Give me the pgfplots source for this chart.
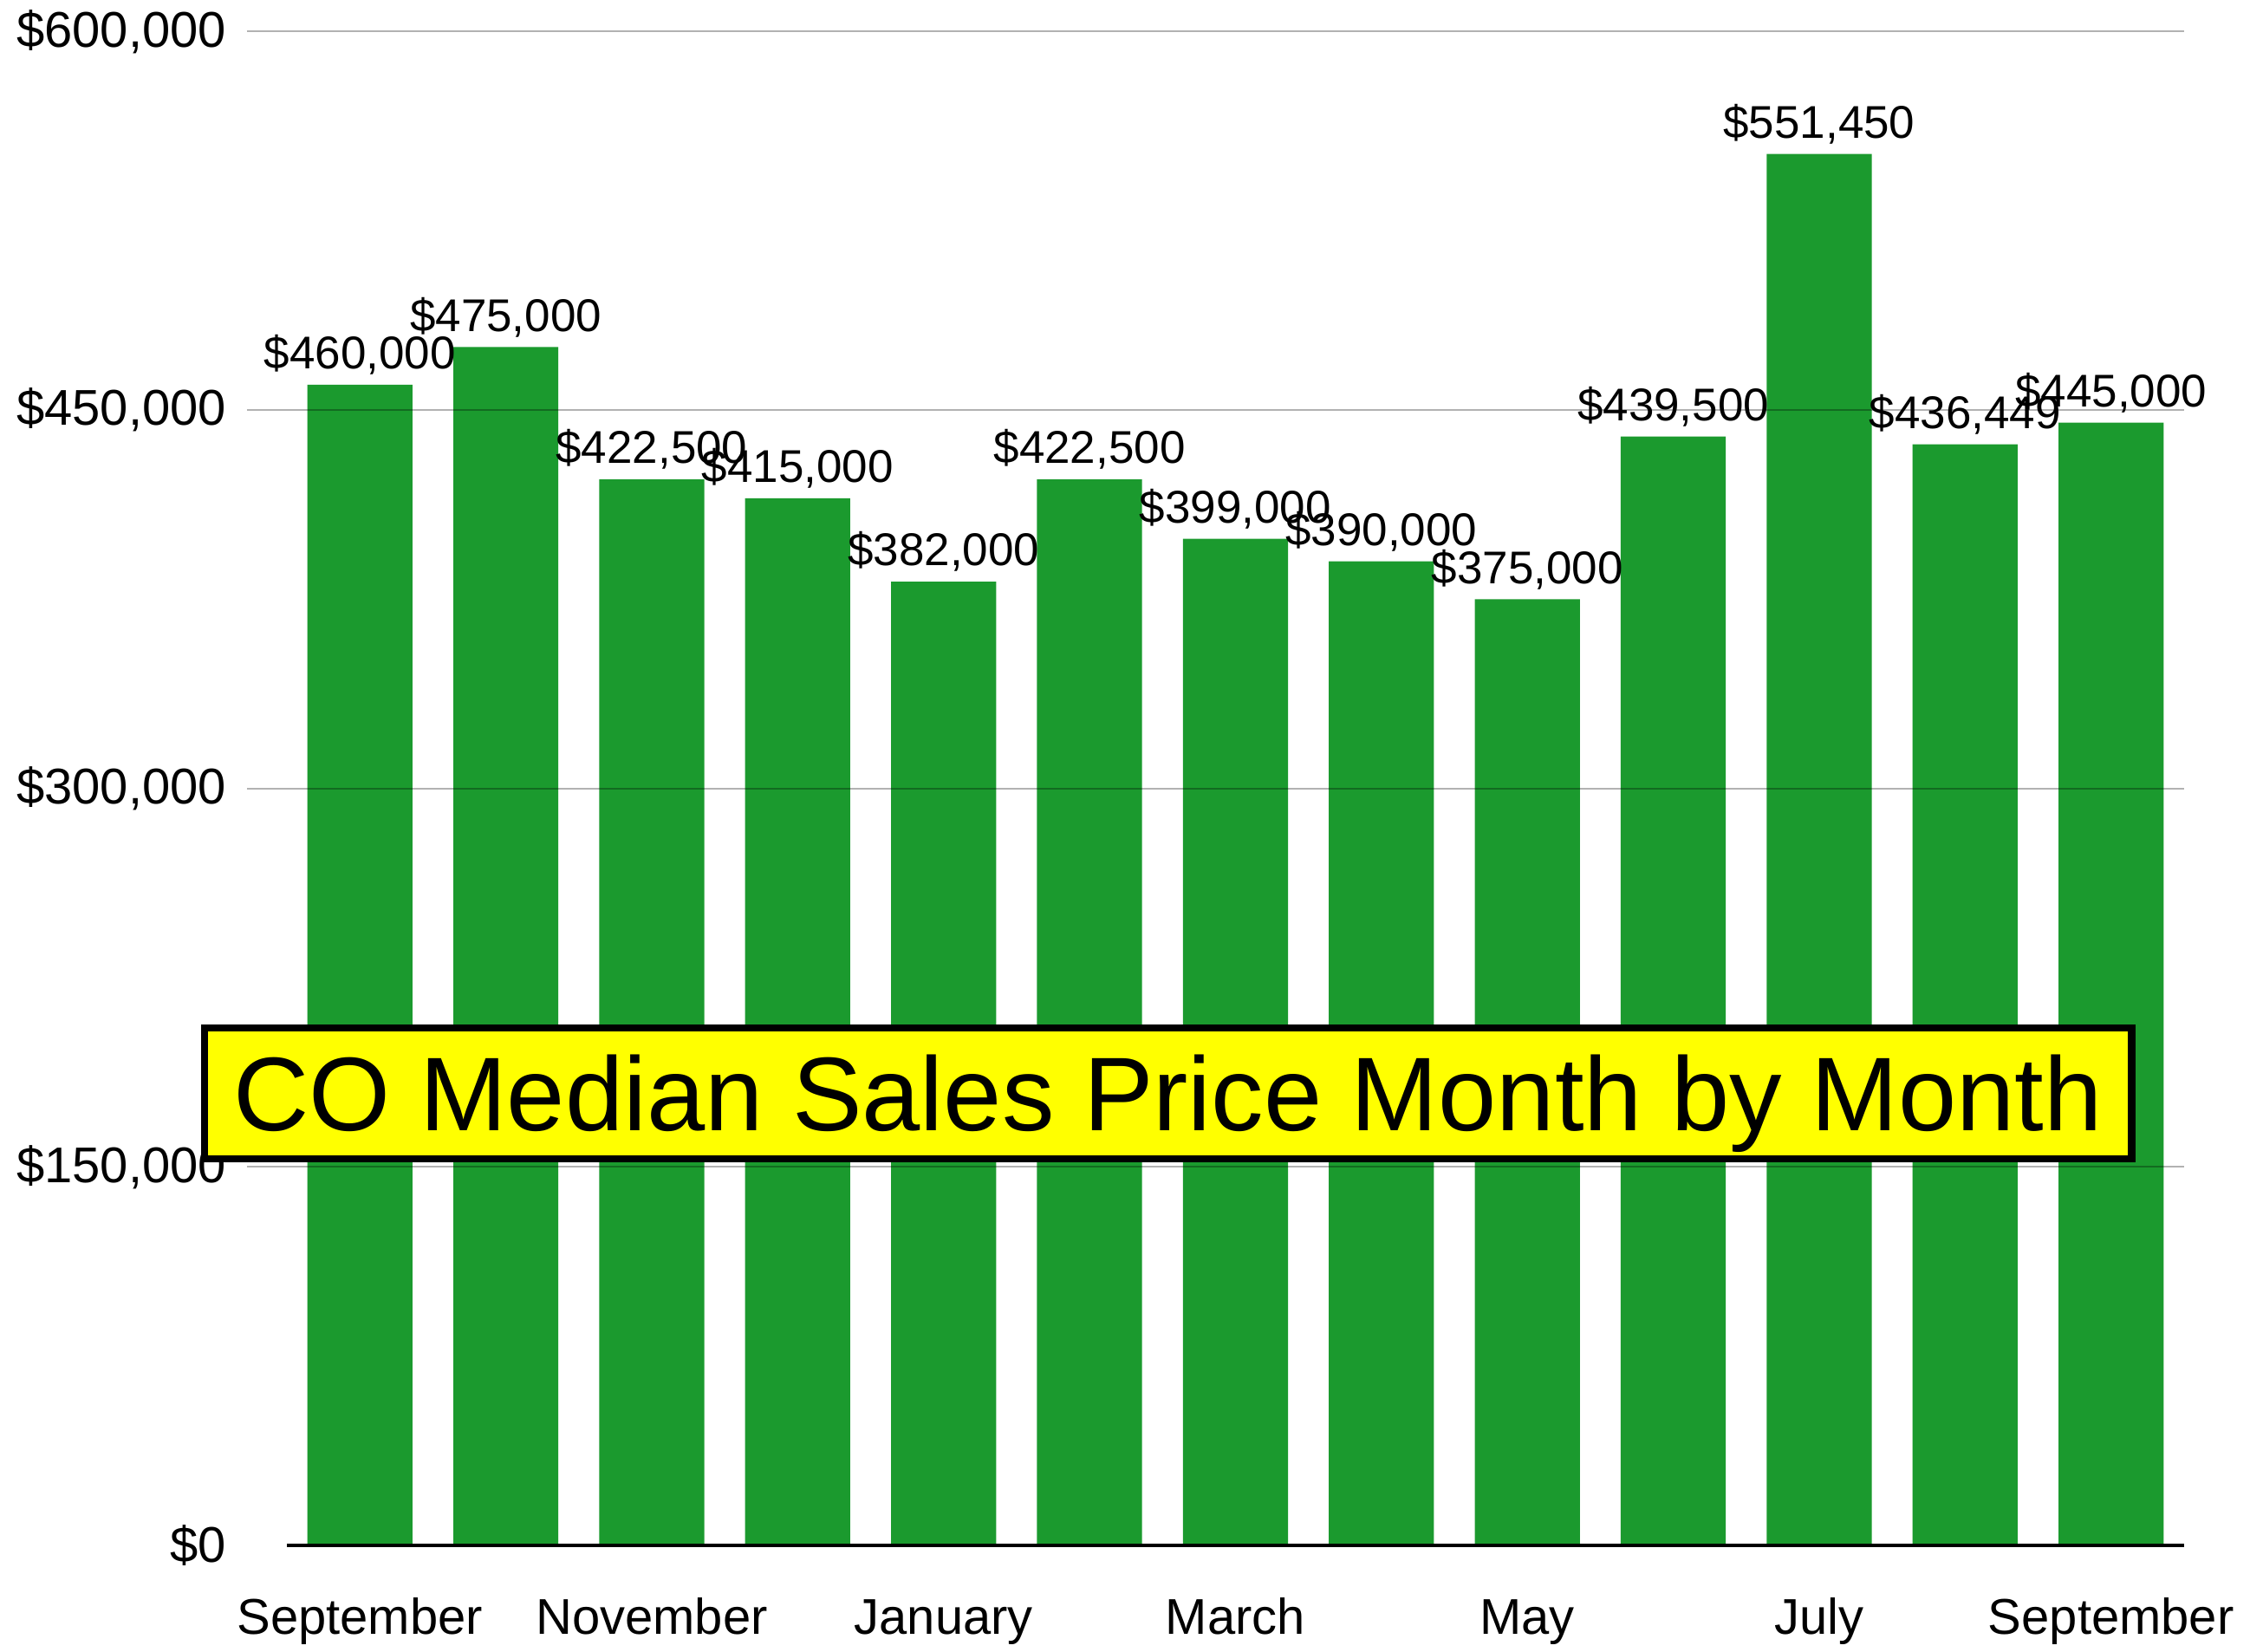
\documentclass[border=0pt]{standalone}
\usepackage{fontspec}
\setmainfont{Liberation Sans}
\usepackage{pgfplots}
\pgfplotsset{compat=1.18}
\definecolor{bargreen}{RGB}{27,154,46}
\definecolor{titleyellow}{RGB}{255,255,0}
\begin{document}
\begin{tikzpicture}
\begin{axis}[
  scale only axis, width=675pt, height=527.5pt,
  xmin=-0.775, xmax=12.5, ymin=0, ymax=600000,
  axis line style={draw=none},
  major tick length=0pt,
  xtick={0,2,4,6,8,10,12},
  xticklabels={September,November,January,March,May,July,September},
  xticklabel style={anchor=base, yshift=-30.8pt, inner sep=0pt, font=\fontsize{17.5}{20}\selectfont},
  ytick={150000,300000,450000,600000},
  yticklabels={{\$150,000},{\$300,000},{\$450,000},{\$600,000}},
  extra y ticks={0}, extra y tick labels={\$0},
  extra y tick style={grid=none},
  yticklabel style={anchor=east, xshift=-7pt, inner sep=0pt, font=\fontsize{17.5}{20}\selectfont},
  scaled y ticks=false,
  ymajorgrids, grid style={draw=black, opacity=0.3, line width=0.6pt},
  axis on top,
  clip=false,
  ybar, bar width=0.72,
  point meta=explicit symbolic,
  nodes near coords={\$\pgfplotspointmeta},
  every node near coord/.append style={anchor=base, yshift=5.5pt, inner sep=0pt, font=\fontsize{16}{18}\selectfont, text=black},
]
\addplot[fill=bargreen, draw=none] table[x=x, y=y, meta=label] {
x y label
0 460000 460,000
1 475000 475,000
2 422500 422,500
3 415000 415,000
4 382000 382,000
5 422500 422,500
6 399000 399,000
7 390000 390,000
8 375000 375,000
9 439500 439,500
10 551450 551,450
11 436449 436,449
12 445000 445,000
};
\draw[black, line width=1pt] (axis cs:-0.5,0) -- (axis cs:12.5,0);
\coordinate (LL) at (rel axis cs:0,0);
\coordinate (UR) at (rel axis cs:1,1);
\coordinate (T) at (axis cs:5.538,179150);
\end{axis}
\node[draw=black, line width=2.5pt, fill=titleyellow, minimum width=671.5pt, minimum height=45.5pt, inner sep=0pt, font=\fontsize{36.5}{40}\selectfont, text height=26.2pt, text depth=0pt] at (T) {CO Median Sales Price Month by Month};
\pgfresetboundingbox
\path ([xshift=-86pt,yshift=-37pt]LL) rectangle ([xshift=23pt,yshift=11pt]UR);
\end{tikzpicture}
\end{document}
